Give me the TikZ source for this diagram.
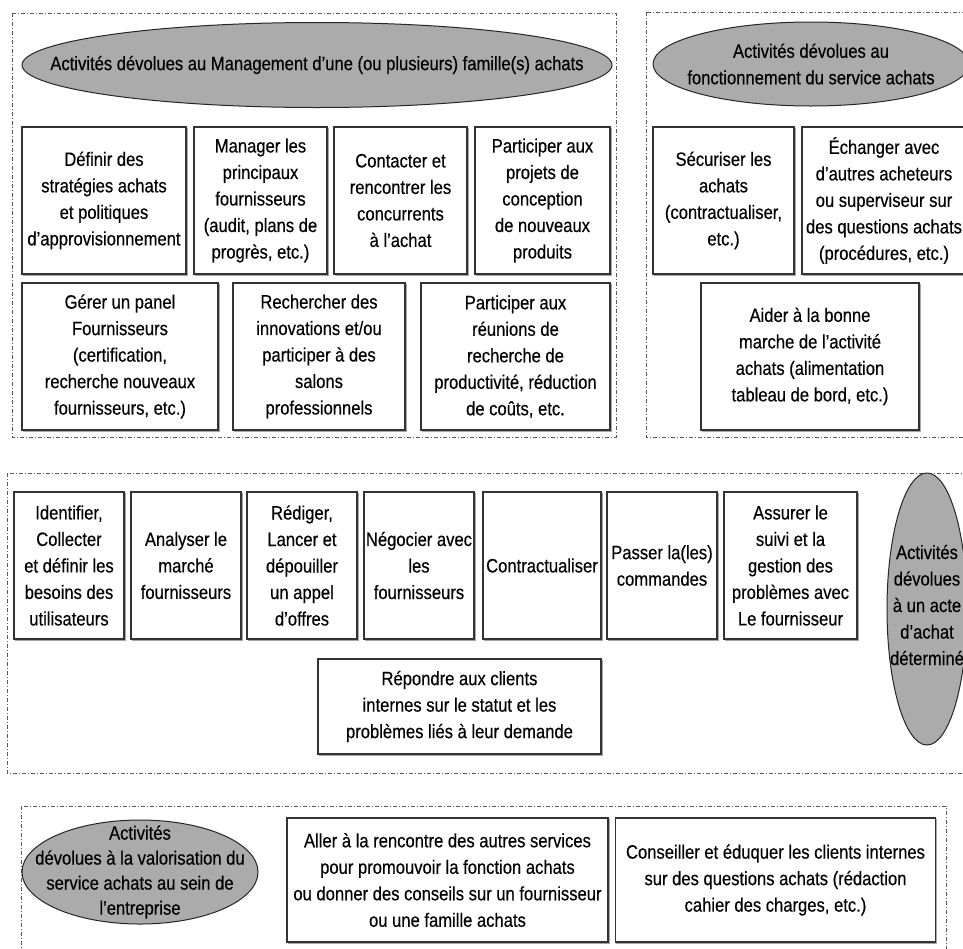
\documentclass[tikz,border=0pt]{standalone}
\usepackage{fontspec}
\setmainfont[FakeStretch=0.86,FakeBold=0.35]{Liberation Sans}
\usetikzlibrary{shapes.geometric}
\tikzset{
  zone/.style={draw=black!65, line width=0.9pt, dash pattern=on 4pt off 2pt on 1pt off 2pt},
  box/.style={draw=black!80, line width=1.3pt, fill=white, align=center, inner sep=0pt,
    preaction={draw=black!35, line width=1.3pt, transform canvas={shift={(1.2pt,-1.4pt)}}},
    font=\fontsize{19.3}{26.5}\selectfont},
  oval/.style={ellipse, draw=black!85, line width=1pt, fill=black!33, inner sep=0pt},
  ovaltext/.style={align=center, inner sep=0pt, font=\fontsize{19.3}{26.5}\selectfont},
}
\begin{document}
\begin{tikzpicture}[x=1pt,y=-1pt]
\useasboundingbox (0,0) rectangle (963,948);
\clip (0,0) rectangle (963,948);
% zones
\draw[zone] (12,13) rectangle (616,437);
\draw[zone] (646,12) rectangle (975,437);
\draw[zone] (7,473) rectangle (975,773);
\draw[zone] (21,806) rectangle (946,960);
% section 1
\node[oval, minimum width=590pt, minimum height=85pt] (m) at (317,65) {};
\node[ovaltext] (mt) at (m) {Activités dévolues au Management d'une (ou plusieurs) famille(s) achats};
\node[box, minimum width=164pt, minimum height=147pt] (b1) at (104,200.5)
  {Définir des\\stratégies achats\\et politiques\\d'approvisionnement};
\node[box, minimum width=133pt, minimum height=147pt] (b2) at (260.5,200.5)
  {Manager les\\principaux\\fournisseurs\\(audit, plans de\\progrès, etc.)};
\node[box, minimum width=133pt, minimum height=147pt] (b3) at (400.5,200.5)
  {Contacter et\\rencontrer les\\concurrents\\à l'achat};
\node[box, minimum width=135pt, minimum height=147pt] (b4) at (542.5,200.5)
  {Participer aux\\projets de\\conception\\de nouveaux\\produits};
\node[box, minimum width=196pt, minimum height=147pt] (b5) at (120,356.5)
  {Gérer un panel\\Fournisseurs\\(certification,\\recherche nouveaux\\fournisseurs, etc.)};
\node[box, minimum width=172pt, minimum height=147pt] (b6) at (319,356.5)
  {Rechercher des\\innovations et/ou\\participer à des\\salons\\professionnels};
\node[box, minimum width=189pt, minimum height=147pt] (b7) at (515.5,356.5)
  {Participer aux\\réunions de\\recherche de\\productivité, réduction\\de coûts, etc.};
% section 2
\node[oval, minimum width=316pt, minimum height=84pt] (f) at (811,64) {};
\node[ovaltext] (ft) at (f) {Activités dévolues au\\fonctionnement du service achats};
\node[box, minimum width=141pt, minimum height=147pt] (s1) at (723.5,200.5)
  {Sécuriser les\\achats\\(contractualiser,\\etc.)};
\node[box, minimum width=164pt, minimum height=147pt] (s2) at (884,200.5)
  {Échanger avec\\d'autres acheteurs\\ou superviseur sur\\des questions achats\\(procédures, etc.)};
\node[box, minimum width=218pt, minimum height=147pt] (s3) at (810,356.5)
  {Aider à la bonne\\marche de l'activité\\achats (alimentation\\tableau de bord, etc.)};
% section 3
\node[box, minimum width=110pt, minimum height=147pt] (i1) at (69,565.5)
  {Identifier,\\Collecter\\et définir les\\besoins des\\utilisateurs};
\node[box, minimum width=110pt, minimum height=147pt] (i2) at (186,565.5)
  {Analyser le\\marché\\fournisseurs};
\node[box, minimum width=110pt, minimum height=147pt] (i3) at (302,565.5)
  {Rédiger,\\Lancer et\\dépouiller\\un appel\\d'offres};
\node[box, minimum width=110pt, minimum height=147pt] (i4) at (419,565.5)
  {Négocier avec\\les\\fournisseurs};
\node[box, minimum width=118pt, minimum height=147pt] (i5) at (542,565.5)
  {Contractualiser};
\node[box, minimum width=110pt, minimum height=147pt] (i6) at (662,565.5)
  {Passer la(les)\\commandes};
\node[box, minimum width=133pt, minimum height=147pt] (i7) at (790.5,565.5)
  {Assurer le\\suivi et la\\gestion des\\problèmes avec\\Le fournisseur};
\node[box, minimum width=283pt, minimum height=95pt] (r) at (459.5,706.5)
  {Répondre aux clients\\internes sur le statut et les\\problèmes liés à leur demande};
\node[oval, minimum width=80pt, minimum height=272pt] (d) at (927,609) {};
\node[ovaltext] (dt) at (927,605) {Activités\\dévolues\\à un acte\\d'achat\\déterminé};
% section 4
\node[oval, minimum width=236pt, minimum height=104pt] (v) at (140,872) {};
\node[ovaltext, font=\fontsize{19.3}{25}\selectfont] (vt) at (v)
  {Activités\\dévolues à la valorisation du\\service achats au sein de\\l'entreprise};
\node[box, minimum width=321pt, minimum height=124pt] (a) at (447.5,880)
  {Aller à la rencontre des autres services\\pour promouvoir la fonction achats\\ou donner des conseils sur un fournisseur\\ou une famille achats};
\node[box, minimum width=320pt, minimum height=124pt] (c) at (775.5,880)
  {Conseiller et éduquer les clients internes\\sur des questions achats (rédaction\\cahier des charges, etc.)};
\end{tikzpicture}
\end{document}
